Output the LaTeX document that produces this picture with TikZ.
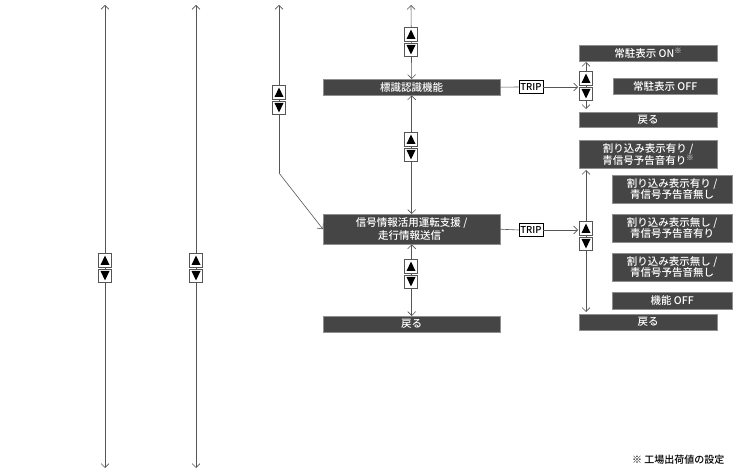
\documentclass[tikz,border=0pt]{standalone}
\usepackage{fontspec}
\setmainfont{Noto Sans CJK JP}[BoldFont={Noto Sans CJK JP Medium}]
\usetikzlibrary{arrows.meta}
\definecolor{dk}{HTML}{454545}
\definecolor{ln}{HTML}{555555}
\tikzset{x=1pt,y=-1pt,
 bx/.style={fill=dk,draw=dk!60,text=white,font=\bfseries\fontsize{10.5}{11}\selectfont,inner sep=0pt,align=center,anchor=north west},
 ln/.style={draw=ln,line width=0.6pt},
 ar/.style={ln,-{Straight Barb[length=4pt,width=8pt]}},
 ar2/.style={ln,{Straight Barb[length=4pt,width=8pt]}-{Straight Barb[length=4pt,width=8pt]}},
 trip/.style={draw=black,fill=white,font=\bfseries\fontsize{9.5}{10}\selectfont,inner sep=1.5pt,minimum height=13pt},
 btn/.pic={\draw[fill=white,draw=ln] (-6.5,-14.5) rectangle (6.5,-1);
   \draw[fill=white,draw=ln] (-6.5,1) rectangle (6.5,14.5);
   \fill (-4.5,-3) -- (4.5,-3) -- (0,-12.5) -- cycle;
   \fill (-4.5,3) -- (4.5,3) -- (0,12.5) -- cycle;}}
\newcommand\bxn[6]{\node[bx,minimum width=#4,minimum height=#5] (#1) at (#2,#3) {#6};}
\begin{document}
\begin{tikzpicture}
\useasboundingbox (0,0) rectangle (750,470);
% left lines
\coordinate (a1) at (105,5); \coordinate (a2) at (105,468);
\draw[ar2] (a1) -- (a2); \pic at (105,268) {btn};
\coordinate (b1) at (196,5); \coordinate (b2) at (196,468);
\draw[ar2] (b1) -- (b2); \pic at (196,268) {btn};
% boxes center
\bxn{s1}{323}{79}{177}{16}{標識認識機能}
\bxn{s2}{323}{214}{177}{30}{信号情報活用運転支援 /\\走行情報送信\textsuperscript{*}}
\bxn{s3}{323}{316}{177}{16}{戻る}
\coordinate (c0) at (411,5);
\draw[ar2] (c0) -- (s1.north); \pic at (411,42) {btn};
\draw[ar2] (s1.south) -- (s2.north); \pic at (411,147) {btn};
\draw[ar2] (s2.south) -- (s3.north); \pic at (411,274) {btn};
\coordinate (d0) at (279,5); \coordinate (d1) at (279,173);
\draw[ln,{Straight Barb[length=4pt,width=8pt]}-] (d0) -- (d1);
\draw[ar] (d1) -- (s2.west);
\pic at (279,100) {btn};
% TRIP
\node[trip] (t1) at (531,87) {TRIP};
\node[trip] (t2) at (531,230) {TRIP};
\coordinate (e1) at (578,87); \coordinate (e2) at (578,230);
\draw[ln] (s1.east) -- (t1.west); \draw[ar] (t1.east) -- (e1);
\draw[ln] (s2.east) -- (t2.west); \draw[ar] (t2.east) -- (e2);
% right top
\bxn{r1}{579}{45}{138}{16}{常駐表示 ON\textsuperscript{※}}
\bxn{r2}{613}{78}{104}{16}{常駐表示 OFF}
\bxn{r3}{579}{112}{138}{15}{戻る}
\coordinate (f1) at (586,62); \coordinate (f2) at (586,109);
\draw[ar2] (f1) -- (f2); \pic at (586,86) {btn};
% right bottom
\bxn{q1}{579}{140}{138}{28}{割り込み表示有り /\\青信号予告音有り\textsuperscript{※}}
\bxn{q2}{612}{175}{120}{28}{割り込み表示有り /\\青信号予告音無し}
\bxn{q3}{612}{214}{120}{28}{割り込み表示無し /\\青信号予告音有り}
\bxn{q4}{612}{253}{120}{28}{割り込み表示無し /\\青信号予告音無し}
\bxn{q5}{612}{292}{120}{17}{機能 OFF}
\bxn{q6}{579}{314}{138}{16}{戻る}
\coordinate (g1) at (586,170); \coordinate (g2) at (586,312);
\draw[ar2] (g1) -- (g2); \pic at (586,236) {btn};
\node[font=\bfseries\fontsize{10}{11}\selectfont,anchor=east] (fn) at (728,460) {※ 工場出荷値の設定};
\end{tikzpicture}
\end{document}
